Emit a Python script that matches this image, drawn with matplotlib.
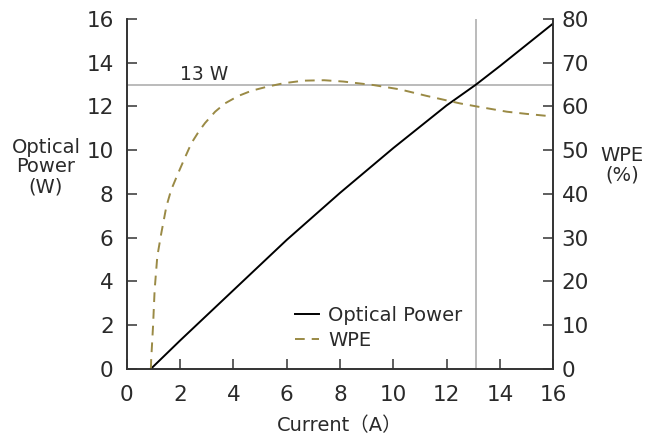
import matplotlib
matplotlib.use('Agg')
import matplotlib.pyplot as plt

plt.rcParams['font.family'] = ['DejaVu Sans', 'Noto Sans CJK JP']

# optical power curve (A, W)
cur_p = [0.9, 2, 4, 6, 8, 10, 12, 13.1, 14, 16]
power = [0, 1.3, 3.6, 5.9, 8.05, 10.1, 12.05, 13.0, 13.85, 15.8]

# wall plug efficiency (A, %)
cur_w = [0.9, 0.91, 0.98, 1.04, 1.14, 1.29, 1.48, 1.66, 1.92, 2.17, 2.42,
         2.7, 2.93, 3.31, 3.68, 4.18, 4.68, 5.25, 5.87, 6.62, 7.4, 8.12,
         9.25, 10.25, 11.26, 12.5, 13.13, 14.26, 15, 16]
wpe = [0, 2, 9.7, 18, 25.7, 31, 37.1, 40.9, 44.7, 48.2, 51.6,
       54.3, 56.2, 58.8, 60.7, 62.4, 63.6, 64.5, 65.3, 65.9, 66.0, 65.7,
       64.9, 63.9, 62.4, 60.7, 60.0, 58.8, 58.3, 57.7]

ref_power = 13
ref_current = 13.1

txt = '#2a2a2a'
spine = '#333333'

fig = plt.figure(figsize=(6.61, 4.37), dpi=100)
ax = fig.add_axes([0.192, 0.156, 0.645, 0.8005])
ax2 = ax.twinx()

ax.axhline(ref_power, color='#b5b5b5', lw=1.3, zorder=1)
ax.axvline(ref_current, color='#b5b5b5', lw=1.3, zorder=1)
ax.text(2.0, 13.22, '13 W', fontsize=13.5, color=txt, va='baseline', ha='left')

l1, = ax.plot(cur_p, power, color='black', lw=1.4, label='Optical Power', zorder=3)
l2, = ax2.plot(cur_w, wpe, color='#9a8a45', lw=1.4, ls=(0, (5, 3.6)), label='WPE')

ax.set_xlim(0, 16)
ax.set_ylim(0, 16)
ax2.set_ylim(0, 80)
ax.set_xticks(range(0, 17, 2))
ax.set_yticks(range(0, 17, 2))
ax2.set_yticks(range(0, 81, 10))

for a in (ax, ax2):
    a.spines['top'].set_visible(False)
    for s in a.spines.values():
        s.set_color(spine)
        s.set_linewidth(1.2)
    a.tick_params(direction='in', length=7, width=1.1, color=spine,
                  labelsize=15.5, labelcolor=txt)
ax.tick_params(axis='y', pad=9.5)
ax.tick_params(axis='x', pad=12)
ax2.tick_params(axis='y', pad=6)

fig.text(0.0696, 0.618, 'Optical\nPower\n(W)', ha='center', va='center',
         fontsize=14, color=txt, linespacing=1.05)
fig.text(0.941, 0.622, 'WPE\n(%)', ha='center', va='center',
         fontsize=14, color=txt, linespacing=1.05)
ax.set_xlabel('Current（A）', fontsize=14, color=txt, labelpad=8)

ax.legend(handles=[l1, l2], loc='upper left', bbox_to_anchor=(0.394, 0.18),
          frameon=False, fontsize=14, handlelength=1.25, handletextpad=0.45,
          labelspacing=0.3, borderpad=0, borderaxespad=0, labelcolor=txt)

fig.savefig('out.png', dpi=100)
